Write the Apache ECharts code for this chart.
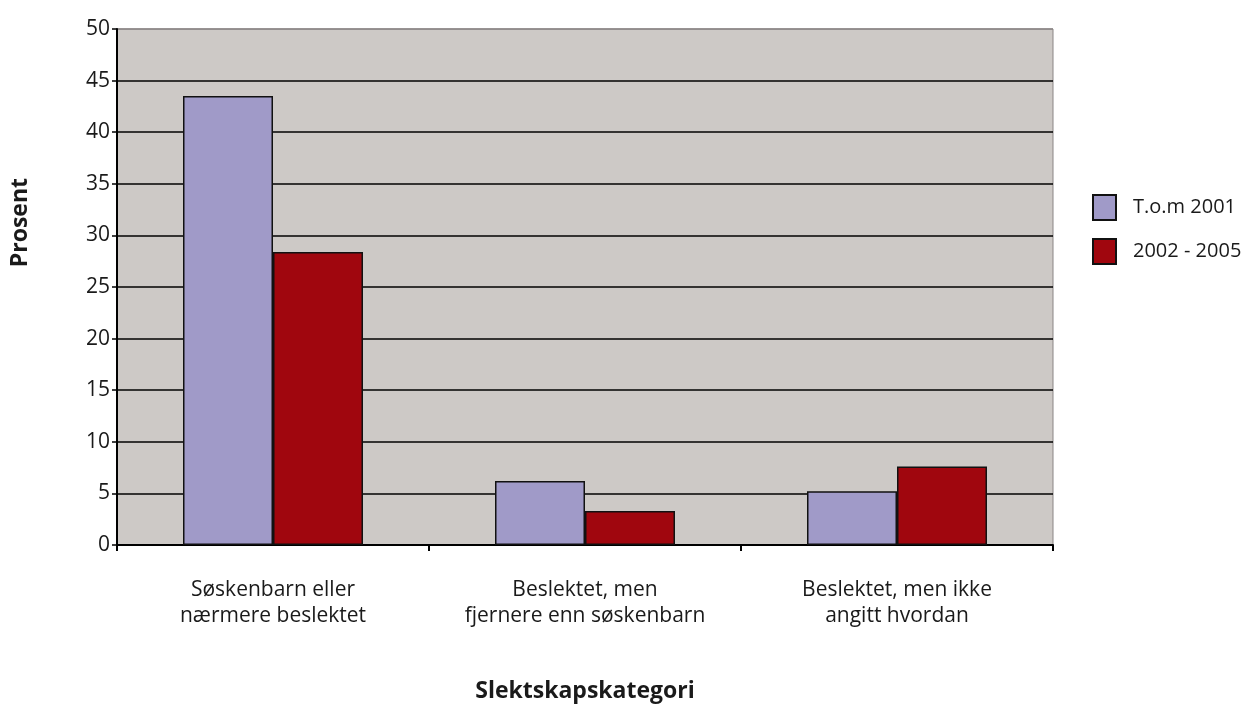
<!DOCTYPE html>
<html>
<head>
<meta charset="utf-8">
<script src="https://cdn.jsdelivr.net/npm/echarts@6/dist/echarts.min.js"></script>
<style>
  html, body { margin: 0; padding: 0; background: #ffffff; }
  #chart { width: 1248px; height: 704px; }
</style>
</head>
<body>
<div id="chart"></div>
<script>
// Kinship category shares (percent) for two periods
const categories = [
  'Søskenbarn eller\nnærmere beslektet',
  'Beslektet, men\nfjernere enn søskenbarn',
  'Beslektet, men ikke\nangitt hvordan'
];
const seriesNames = ['T.o.m 2001', '2002 - 2005'];
const valuesUpTo2001 = [43.5, 6.2, 5.2];
const values2002to2005 = [28.4, 3.3, 7.6];
const yAxisTitle = 'Prosent';
const xAxisTitle = 'Slektskapskategori';

const fontFamily = '"Open Sans", "Noto Sans", sans-serif';

// Gridlines are black, the top border line (50) is grey
const gridColors = ['#000', '#000', '#000', '#000', '#000', '#000', '#000', '#000', '#000', '#000', '#8a8585'];

const chart = echarts.init(document.getElementById('chart'), null, { renderer: 'canvas' });
chart.setOption({
  animation: false,
  textStyle: { fontFamily: fontFamily },
  grid: {
    left: 117, top: 29, right: 195, bottom: 159,
    outerBoundsMode: 'none',
    containLabel: false,
    show: true, backgroundColor: '#cdc9c6',
    borderColor: '#8a8585', borderWidth: 1
  },
  legend: {
    orient: 'vertical',
    left: 1087, top: 189,
    icon: 'rect',
    itemWidth: 23, itemHeight: 25,
    itemGap: 17,
    data: seriesNames,
    textStyle: { fontSize: 20, color: '#1a1a1a', padding: [0, 0, 0, 12], fontFamily: fontFamily }
  },
  // Vertical axis title, placed above the middle of the axis
  graphic: [{
    type: 'text',
    left: 9,
    top: 178,
    rotation: Math.PI / 2,
    style: {
      text: yAxisTitle,
      font: 'bold 23px ' + fontFamily,
      fill: '#1a1a1a'
    }
  }],
  xAxis: {
    type: 'category',
    data: categories,
    name: xAxisTitle,
    nameLocation: 'middle',
    nameGap: 135,
    nameTextStyle: { fontSize: 23, fontWeight: 'bold', color: '#1a1a1a', fontFamily: fontFamily },
    axisLine: { lineStyle: { color: '#000', width: 2 } },
    axisTick: { show: true, interval: 0, length: 6, lineStyle: { color: '#000', width: 2 } },
    axisLabel: { interval: 0, fontSize: 21, color: '#1a1a1a', margin: 32, lineHeight: 26, fontFamily: fontFamily }
  },
  yAxis: {
    type: 'value',
    min: 0, max: 50, interval: 5,
    axisLine: { show: true, lineStyle: { color: '#000', width: 2 } },
    axisTick: { show: true, length: 5, lineStyle: { color: '#000', width: 1.5 } },
    axisLabel: { fontSize: 21, color: '#1a1a1a', margin: 7, fontFamily: fontFamily },
    splitLine: { show: true, lineStyle: { color: gridColors, width: 1.5 } }
  },
  series: [
    {
      name: seriesNames[0],
      type: 'bar',
      data: valuesUpTo2001,
      barWidth: 90,
      barGap: '0%',
      itemStyle: { color: '#a09ac8', borderColor: '#111', borderWidth: 1.5 }
    },
    {
      name: seriesNames[1],
      type: 'bar',
      data: values2002to2005,
      barWidth: 90,
      barGap: '0%',
      itemStyle: { color: '#a0060e', borderColor: '#111', borderWidth: 1.5 }
    }
  ]
});
</script>
</body>
</html>
